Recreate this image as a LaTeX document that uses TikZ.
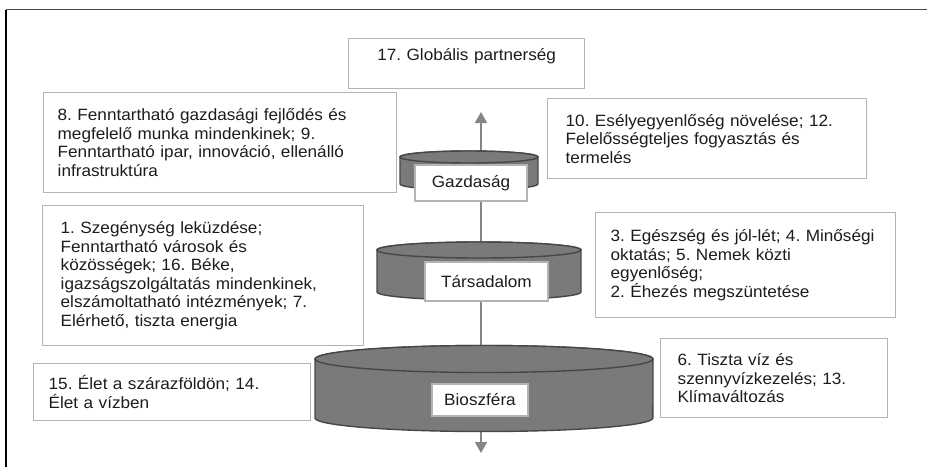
\documentclass[tikz,border=0pt]{standalone}
\usepackage{fontspec}
\setmainfont{Liberation Sans}[FakeStretch=1.05]
\usepackage{xcolor}
\usetikzlibrary{arrows.meta}
\definecolor{cylfill}{HTML}{7A7A7A}
\definecolor{cyledge}{HTML}{474747}
\definecolor{boxedge}{HTML}{B4B4B4}
\definecolor{axisgray}{HTML}{858585}
\definecolor{txt}{HTML}{1C1C1C}
\frenchspacing

\begin{document}
\begin{tikzpicture}[
        x=0.02cm, y=-0.02cm,
        goal/.style={rectangle, draw=boxedge, line width=0.8pt, anchor=north west, inner xsep=0.3cm, inner ysep=0pt, align=left, text=txt, font=\fontsize{9.3}{10.5}\selectfont},
        ring/.style={rectangle, draw=boxedge, line width=0.8pt, fill=white, inner sep=0pt, text=txt, font=\fontsize{9.3}{10.5}\selectfont},
        cyl/.style={fill=cylfill, draw=cyledge, line width=0.8pt},
        axis/.style={draw=axisgray, line width=0.9pt, {Triangle[length=0.22cm, width=0.24cm]}-{Triangle[length=0.22cm, width=0.24cm]}}
    ]
        \useasboundingbox (0,0) rectangle (927,467);
        \draw[cyledge, line width=1pt] (6,9.5) -- (927,9.5);
        \draw[black, line width=1pt] (6,9.5) -- (6,467);

        \coordinate (up) at (481,112);
        \coordinate (down) at (481,453);
        \draw[axis] (down) -- (up);

        \filldraw[cyl] (315,359) -- (315,418) arc[start angle=180, end angle=360, x radius=3.38cm, y radius=0.27cm] -- (653,359) arc[start angle=0, end angle=180, x radius=3.38cm, y radius=0.27cm] -- cycle;
        \filldraw[cyl] (484,359) ellipse[x radius=3.38cm, y radius=0.27cm];
        \filldraw[cyl] (377,250) -- (377,292) arc[start angle=180, end angle=360, x radius=2.04cm, y radius=0.16cm] -- (581,250) arc[start angle=0, end angle=180, x radius=2.04cm, y radius=0.16cm] -- cycle;
        \filldraw[cyl] (479,250) ellipse[x radius=2.04cm, y radius=0.16cm];
        \filldraw[cyl] (400,157) -- (400,184) arc[start angle=180, end angle=360, x radius=1.38cm, y radius=0.12cm] -- (538,157) arc[start angle=0, end angle=180, x radius=1.38cm, y radius=0.12cm] -- cycle;
        \filldraw[cyl] (469,157) ellipse[x radius=1.38cm, y radius=0.12cm];

        \node[ring, minimum width=2.24cm, minimum height=0.72cm] (gazd) at (471,183) {Gazdaság};
        \node[ring, minimum width=2.46cm, minimum height=0.78cm] (tars) at (486.5,281.5) {Társadalom};
        \node[ring, minimum width=1.92cm, minimum height=0.64cm] (bio) at (480,400) {Bioszféra};

        \node[goal, align=center, inner xsep=0pt, text width=4.72cm, text height=0.44cm, text depth=0.56cm] (g17) at (348,38) {17. Globális partnerség};
        \node[goal, inner xsep=0.28cm, text width=6.5cm, minimum height=2.0cm] (g8) at (43,92) {8. Fenntartható gazdasági fejlődés és\\megfelelő munka mindenkinek; 9.\\Fenntartható ipar, innováció, ellenálló\\infrastruktúra};
        \node[goal, inner xsep=0.36cm, text width=5.66cm, minimum height=1.6cm] (g10) at (547,98) {10. Esélyegyenlőség növelése; 12.\\Felelősségteljes fogyasztás és\\termelés};
        \node[goal, inner xsep=0.36cm, text width=5.7cm, minimum height=2.8cm] (g1) at (42,205) {1. Szegénység leküzdése;\\Fenntartható városok és\\közösségek; 16. Béke,\\igazságszolgáltatás mindenkinek,\\elszámoltatható intézmények; 7.\\Elérhető, tiszta energia};
        \node[goal, text width=5.4cm, minimum height=2.1cm] (g3) at (595,212) {3. Egészség és jól-lét; 4. Minőségi\\oktatás; 5. Nemek közti\\egyenlőség;\\2. Éhezés megszüntetése};
        \node[goal, text width=4.94cm, minimum height=1.14cm] (g15) at (33,363) {15. Élet a szárazföldön; 14.\\Élet a vízben};
        \node[goal, inner xsep=0.34cm, text width=3.86cm, minimum height=1.58cm] (g6) at (660,338) {6. Tiszta víz és\\szennyvízkezelés; 13.\\Klímaváltozás};
    \end{tikzpicture}
\end{document}
